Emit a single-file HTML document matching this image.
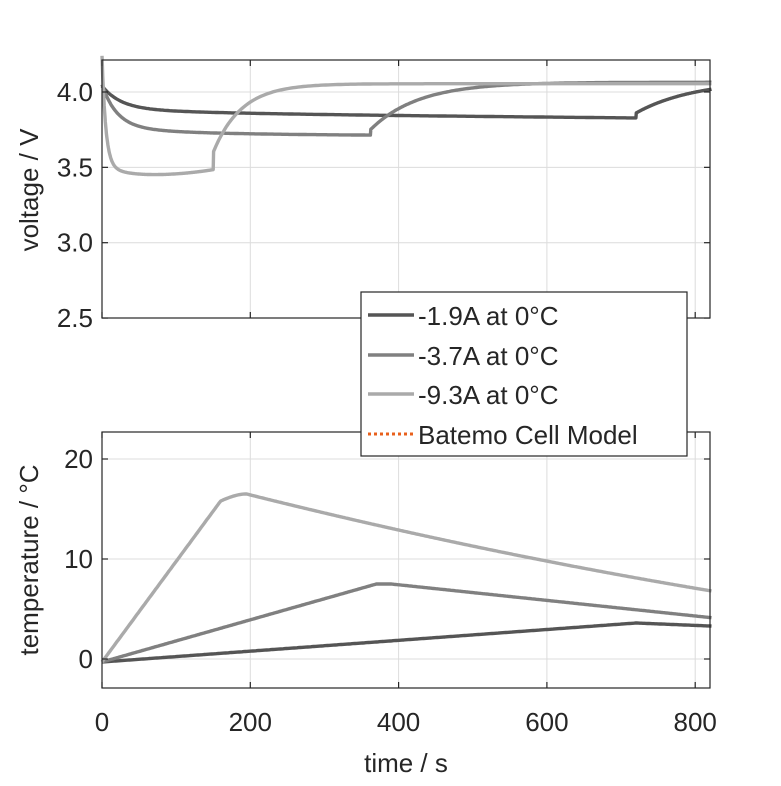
<!DOCTYPE html>
<html><head><style>
body{margin:0;background:#fff}
svg text{font-family:"Liberation Sans",sans-serif;fill:#262626}
</style></head><body>
<svg id="s" width="781" height="781" xmlns="http://www.w3.org/2000/svg">
<rect width="781" height="781" fill="#fff"/>
<g id="grid" stroke="#dcdcdc" stroke-width="1"></g>
<g id="curves" fill="none" stroke-width="3.4" stroke-linejoin="round"></g>
<g id="axes" stroke="#262626" stroke-width="1.2" fill="none"></g>
<g id="labels" font-size="26"></g>
<text x="406" y="772" font-size="26" text-anchor="middle">time / s</text>
<text transform="translate(38,190) rotate(-90)" font-size="26" text-anchor="middle">voltage / V</text>
<text transform="translate(38,560) rotate(-90)" font-size="26" text-anchor="middle">temperature / °C</text>
<g>
<rect x="361" y="292" width="326" height="164" fill="#fff" stroke="#262626" stroke-width="1.2"/>
<line x1="368" y1="315" x2="414" y2="315" stroke="#555" stroke-width="3.4"/>
<line x1="368" y1="355" x2="414" y2="355" stroke="#808080" stroke-width="3.4"/>
<line x1="368" y1="394" x2="414" y2="394" stroke="#aaa" stroke-width="3.4"/>
<line x1="368" y1="434" x2="414" y2="434" stroke="#e8601c" stroke-width="3" stroke-dasharray="3,3"/>
<text x="418" y="325" font-size="26">-1.9A at 0°C</text>
<text x="418" y="365" font-size="26">-3.7A at 0°C</text>
<text x="418" y="404" font-size="26">-9.3A at 0°C</text>
<text x="418" y="444" font-size="26">Batemo Cell Model</text>
</g>
</svg>
<script>
const X=t=>102+t*148.3/200;
const VY=v=>92-(v-4)*150.7;
const TY=T=>659-T*10;
const ns="http://www.w3.org/2000/svg";
function el(g,tag,a){const e=document.createElementNS(ns,tag);for(const k in a)e.setAttribute(k,a[k]);document.getElementById(g).appendChild(e);return e;}
for(let t=0;t<=800;t+=200){const x=X(t);el("grid","line",{x1:x,y1:60,x2:x,y2:318});el("grid","line",{x1:x,y1:432,x2:x,y2:688});}
[4,3.5,3].forEach(v=>el("grid","line",{x1:102,y1:VY(v),x2:710,y2:VY(v)}));
[20,10,0].forEach(T=>el("grid","line",{x1:102,y1:TY(T),x2:710,y2:TY(T)}));
function path(f,t0,t1,n){let d="";for(let i=0;i<=n;i++){const t=t0+(t1-t0)*i/n;d+=(i?"L":"M")+X(t).toFixed(1)+","+f(t).toFixed(1);}return d;}
const cols=["#555","#808080","#aaa"];
const fv=[];
fv[2]=t=>{let v;if(t<=150){const base=3.45+0.0000045*Math.pow(t-62,2);v=base+(4.18-base)*Math.exp(-t/5)+0.06*Math.exp(-t/20);}
 else{const u=t-150;v=4.055-(4.055-3.6)*Math.exp(-u/38);}return VY(v);};
fv[1]=t=>{let v;if(t<=362){const base=3.72-t*0.00002;v=base+(4.0-base)*Math.exp(-t/20)+0.05*Math.exp(-t/100);}
 else{const u=t-362;v=4.065-(4.065-3.75)*Math.exp(-u/65);}return VY(v);};
fv[0]=t=>{let v;if(t<=720){const base=3.86-t*0.000045;v=base+(4.01-base)*Math.exp(-t/25)+0.03*Math.exp(-t/150);}
 else{const u=t-720;v=4.08-(4.08-3.86)*Math.exp(-u/80);}return VY(v);};
const ends=[720,362,150];
for(let i=0;i<3;i++){
 el("curves","path",{d:path(fv[i],0,ends[i],300)+path(fv[i],ends[i]+0.5,822,200).replace("M","L"),stroke:cols[i]});
}
const ft=[
 t=>TY(t<=720?-0.3+t*3.9/720:3.6-(t-720)*0.003),
 t=>TY(t<=370?-0.3+t*7.8/370:(t<390?7.5:7.5-(t-390)*0.0078)),
 t=>{let T;if(t<=160)T=-0.3+t*16.6/165;else if(t<195)T=15.8+0.7*Math.sin((t-160)/35*Math.PI/2);else T=16.5-(t-195)*0.0186+(t-195)*(t-195)*0.0000050;return TY(T);}
];
for(let i=0;i<3;i++)el("curves","path",{d:path(ft[i],0,822,400),stroke:cols[i]});
el("axes","rect",{x:102,y:60,width:608,height:258});
el("axes","rect",{x:102,y:432,width:608,height:256});
for(let t=0;t<=800;t+=200){const x=X(t);
 [[60,66],[318,312],[432,438],[688,682]].forEach(p=>el("axes","line",{x1:x,y1:p[0],x2:x,y2:p[1]}));}
[4,3.5,3,2.5].forEach(v=>{const y=VY(v);el("axes","line",{x1:102,y1:y,x2:108,y2:y});el("axes","line",{x1:710,y1:y,x2:704,y2:y});
 const tx=el("labels","text",{x:93,y:y+9,"text-anchor":"end"});tx.textContent=v.toFixed(1);});
[20,10,0].forEach(T=>{const y=TY(T);el("axes","line",{x1:102,y1:y,x2:108,y2:y});el("axes","line",{x1:710,y1:y,x2:704,y2:y});
 const tx=el("labels","text",{x:93,y:y+9,"text-anchor":"end"});tx.textContent=T;});
for(let t=0;t<=800;t+=200){const tx=el("labels","text",{x:X(t),y:731,"text-anchor":"middle"});tx.textContent=t;}
</script>
</body></html>
